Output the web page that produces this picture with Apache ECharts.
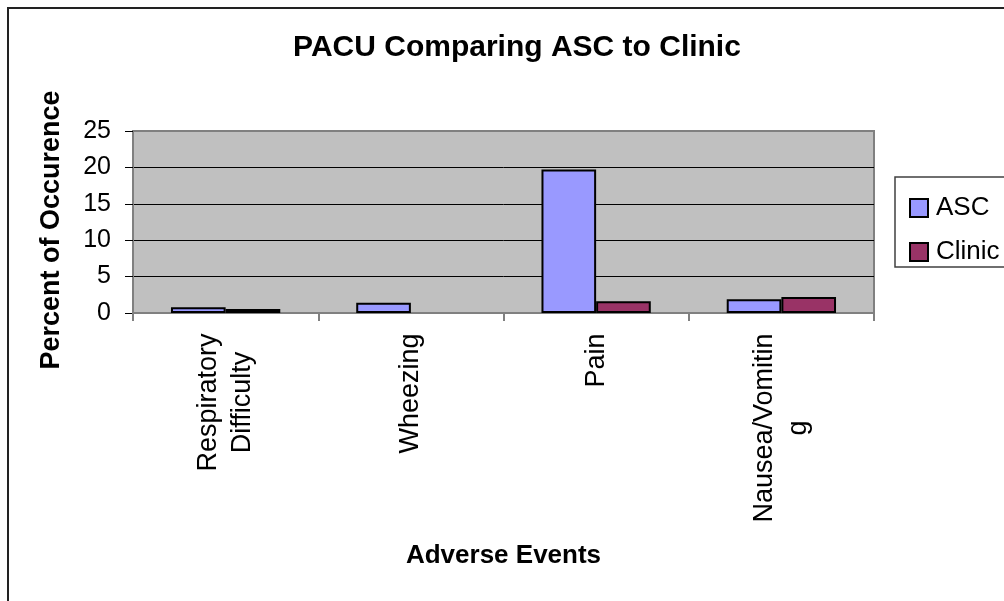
<!DOCTYPE html>
<html>
<head>
<meta charset="utf-8">
<script src="https://cdn.jsdelivr.net/npm/echarts@6/dist/echarts.min.js"></script>
<style>
html,body{margin:0;padding:0;background:#fff;}
#chart{width:1004px;height:601px;}
</style>
</head>
<body>
<div id="chart"></div>
<script>
const categories = ['Respiratory Difficulty', 'Wheezing', 'Pain', 'Nausea/Vomiting'];
const tickLabels = ['Respiratory\nDifficulty', 'Wheezing', 'Pain', 'Nausea/Vomitin\ng'];
const seriesNames = ['ASC', 'Clinic'];
const ascValues = [0.8, 1.4, 19.7, 1.9];
const clinicValues = [0.55, 0, 1.6, 2.2];
const yMin = 0, yMax = 25, yStep = 5;

const FONT = '"Liberation Sans", Arial, sans-serif';
const LABEL_SIZE = 27;

// rich styles so multi-line tick labels have centred lines
const measureCtx = document.createElement('canvas').getContext('2d');
measureCtx.font = LABEL_SIZE + 'px ' + FONT;
const rich = {};
tickLabels.forEach((lab, i) => {
  const lines = lab.split('\n');
  const w = Math.max(...lines.map(l => measureCtx.measureText(l).width));
  rich['l' + i] = { width: Math.ceil(w), align: 'center', fontSize: LABEL_SIZE, fontFamily: FONT, color: '#000', lineHeight: 34 };
});

// zero-height bars draw no outline
const toData = arr => arr.map(v => v === 0 ? { value: v, itemStyle: { borderWidth: 0 } } : v);

const chart = echarts.init(document.getElementById('chart'), null, { renderer: 'canvas' });
chart.setOption({
  animation: false,
  backgroundColor: '#fff',
  textStyle: { fontFamily: FONT },
  title: {
    text: 'PACU Comparing ASC to Clinic',
    left: 512, top: 28, textAlign: 'center',
    textStyle: { fontSize: 30, fontWeight: 'bold', color: '#000', fontFamily: FONT }
  },
  graphic: [
    { type: 'rect', shape: { x: 8, y: 8, width: 1100, height: 700 },
      style: { fill: 'none', stroke: '#222', lineWidth: 2 }, z: -10, silent: true },
    { type: 'rect', shape: { x: 895, y: 177, width: 200, height: 90 },
      style: { fill: '#fff', stroke: '#404040', lineWidth: 1.5 }, z: -5, silent: true },
    { type: 'text', x: 52, y: 230, rotation: Math.PI / 2,
      style: { text: 'Percent of Occurence', fontSize: 27, fontWeight: 'bold', fill: '#000',
               fontFamily: FONT, align: 'center', verticalAlign: 'middle' } }
  ],
  legend: {
    orient: 'vertical', left: 904, top: 190,
    icon: 'rect',
    itemWidth: 18, itemHeight: 18, itemGap: 18,
    textStyle: { fontSize: 26, color: '#000', fontFamily: FONT, padding: [0, 0, 0, 3] },
    data: seriesNames
  },
  grid: {
    left: 133, top: 131, width: 741, height: 182,
    show: true, backgroundColor: '#C0C0C0', borderColor: '#808080', borderWidth: 2
  },
  xAxis: {
    type: 'category',
    data: categories,
    name: 'Adverse Events', nameLocation: 'middle', nameGap: 230,
    nameTextStyle: { fontSize: 26, fontWeight: 'bold', color: '#000', fontFamily: FONT },
    axisLine: { show: true, lineStyle: { color: '#808080', width: 2 } },
    axisTick: { show: true, length: 8, lineStyle: { color: '#808080', width: 2 } },
    axisLabel: {
      interval: 0, rotate: 90, margin: 20,
      formatter: (v, i) => tickLabels[i].split('\n').map(l => '{l' + i + '|' + l + '}').join('\n'),
      rich: rich
    },
    splitLine: { show: false }
  },
  yAxis: {
    type: 'value', min: yMin, max: yMax, interval: yStep,
    axisLine: { show: true, lineStyle: { color: '#808080', width: 2 } },
    axisTick: { show: true, length: 8, lineStyle: { color: '#000', width: 1 } },
    axisLabel: { fontSize: 25, color: '#000', margin: 22, fontFamily: FONT },
    splitLine: { show: true, lineStyle: { color: ['#808080', '#000', '#000', '#000', '#000', '#808080'], width: 1 } }
  },
  series: [
    { name: seriesNames[0], type: 'bar', data: toData(ascValues), barGap: '0%', barCategoryGap: '41%',
      itemStyle: { color: '#9999FF', borderColor: '#000', borderWidth: 2 } },
    { name: seriesNames[1], type: 'bar', data: toData(clinicValues), barGap: '0%', barCategoryGap: '41%',
      itemStyle: { color: '#993366', borderColor: '#000', borderWidth: 2 } }
  ]
});
</script>
</body>
</html>
